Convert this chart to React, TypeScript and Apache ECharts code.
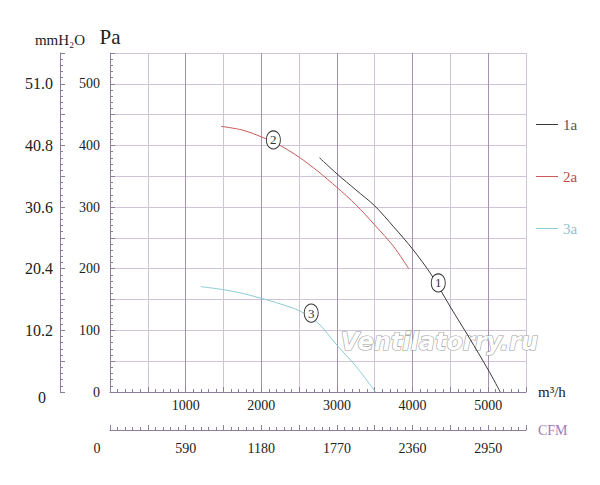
import React, { useEffect, useRef } from 'react';
import * as echarts from 'echarts';

// Series (fan curves): flow in m³/h, pressure in Pa
const seriesNames = ['1a', '2a', '3a'];
const seriesColors = ['#3a3a3a', '#c85a5a', '#8ccbd6'];
const legendTextColors = ['#555555', '#c04848', '#8fc3d0'];

const flow1 = [2770, 3000, 3250, 3500, 3750, 4000, 4250, 4500, 4750, 5000, 5160];
const pressure1 = [380, 354, 328, 302, 268, 232, 190, 138, 88, 36, 0];

const flow2 = [1470, 1750, 2000, 2250, 2500, 2750, 3000, 3250, 3500, 3750, 3950];
const pressure2 = [431, 425, 414, 400, 381, 358, 332, 304, 271, 236, 200];

const flow3 = [1200, 1500, 1750, 2000, 2250, 2500, 2750, 3000, 3250, 3510];
const pressure3 = [171, 166, 160, 152, 143, 132, 112, 76, 42, 0];

// Circled curve tags
const curveTags = ['1', '2', '3'];
const tagFlow = [4340, 2160, 2660];
const tagPressure = [177, 409, 128];

// Axes
const flowMax = 5500;
const flowStep = 500;
const flowLabelStep = 1000;
const pressureMax = 550;
const pressureStep = 50;
const pressureLabelStep = 100;
const PA_TO_MMH2O = 0.102;
const M3H_TO_CFM = 0.59;

const watermarkText = 'Ventilatorry.ru';

const FONT = '"Liberation Serif", "DejaVu Serif", serif';
const AXIS_COLOR = '#8e7e9e';
const GRID_DARK = '#a592b2';
const GRID_LIGHT = '#cfc4d6';
const TEXT_COLOR = '#222222';

export default function App() {
  const ref = useRef<HTMLDivElement>(null);

  useEffect(() => {
    document.body.style.margin = '0';
    if (!ref.current) return;
    const chart = echarts.init(ref.current, null, { renderer: 'svg' });

    const flows = [flow1, flow2, flow3];
    const pressures = [pressure1, pressure2, pressure3];

    const mmMax = +(pressureMax * PA_TO_MMH2O).toFixed(2);
    const mmStep = +(pressureStep * PA_TO_MMH2O).toFixed(2);
    const mmLabelStep = +(pressureLabelStep * PA_TO_MMH2O).toFixed(2);

    const tickCommon = {
      show: true,
      inside: true,
      length: 5,
      lineStyle: { color: AXIS_COLOR, width: 1 },
    };
    const minorCommon = {
      show: true,
      splitNumber: 5,
      length: 3,
      lineStyle: { color: AXIS_COLOR, width: 1 },
    };

    const option: any = {
      animation: false,
      backgroundColor: '#ffffff',
      textStyle: { fontFamily: FONT },
      grid: [
        { left: 110, right: 74, top: 53, bottom: 93, containLabel: false },
        { left: 110, right: 74, top: 429, height: 1, containLabel: false },
      ],
      legend: {
        orient: 'vertical',
        left: 531,
        top: 112,
        icon: 'rect',
        itemWidth: 22,
        itemHeight: 1,
        itemGap: 37,
        textStyle: { fontFamily: FONT, fontSize: 15 },
        data: seriesNames.map((n, i) => ({
          name: n,
          itemStyle: { color: seriesColors[i] },
          textStyle: { color: legendTextColors[i], fontFamily: FONT, fontSize: 15 },
        })),
      },
      xAxis: [
        {
          type: 'value',
          gridIndex: 0,
          min: 0,
          max: flowMax,
          interval: flowStep,
          name: 'm³/h',
          nameLocation: 'end',
          nameGap: 12,
          nameTextStyle: { fontFamily: FONT, fontSize: 15, color: TEXT_COLOR },
          axisLine: { show: true, onZero: false, lineStyle: { color: AXIS_COLOR } },
          axisTick: tickCommon,
          minorTick: minorCommon,
          splitLine: { show: true, lineStyle: { color: [GRID_DARK, GRID_LIGHT], width: 1 } },
          axisLabel: {
            margin: 6,
            fontFamily: FONT,
            fontSize: 14,
            color: TEXT_COLOR,
            formatter: (v: number) => (v > 0 && v % flowLabelStep === 0 ? String(v) : ''),
          },
        },
        {
          type: 'value',
          gridIndex: 1,
          min: 0,
          max: flowMax,
          interval: flowStep,
          position: 'bottom',
          name: 'CFM',
          nameLocation: 'end',
          nameGap: 12,
          nameTextStyle: {
            fontFamily: FONT,
            fontSize: 14,
            color: '#a07cb4',
            padding: [36, 0, 0, 0],
          },
          axisLine: { show: true, onZero: false, lineStyle: { color: AXIS_COLOR } },
          axisTick: tickCommon,
          minorTick: minorCommon,
          splitLine: { show: false },
          axisLabel: {
            margin: 11,
            fontFamily: FONT,
            fontSize: 14,
            color: TEXT_COLOR,
            formatter: (v: number) => {
              if (v % flowLabelStep !== 0) return '';
              if (v === 0) return '{z|0}';
              return String(Math.round(v * M3H_TO_CFM));
            },
            rich: {
              z: { fontFamily: FONT, fontSize: 14, color: TEXT_COLOR, padding: [0, 26, 0, 0] },
            },
          },
        },
      ],
      yAxis: [
        {
          type: 'value',
          gridIndex: 0,
          min: 0,
          max: pressureMax,
          interval: pressureStep,
          name: 'Pa',
          nameLocation: 'end',
          nameGap: 6,
          nameTextStyle: { fontFamily: FONT, fontSize: 21, color: TEXT_COLOR, align: 'center' },
          axisLine: { show: true, onZero: false, lineStyle: { color: AXIS_COLOR } },
          axisTick: tickCommon,
          minorTick: minorCommon,
          splitLine: { show: true, lineStyle: { color: GRID_LIGHT, width: 1 } },
          axisLabel: {
            margin: 10,
            fontFamily: FONT,
            fontSize: 14,
            color: TEXT_COLOR,
            formatter: (v: number) => (v % pressureLabelStep === 0 ? String(v) : ''),
          },
        },
        {
          type: 'value',
          gridIndex: 0,
          min: 0,
          max: mmMax,
          interval: mmStep,
          position: 'left',
          offset: 50,
          name: 'mmH₂O',
          nameLocation: 'end',
          nameGap: 6,
          nameTextStyle: { fontFamily: FONT, fontSize: 15, color: TEXT_COLOR, align: 'center' },
          axisLine: { show: true, onZero: false, lineStyle: { color: AXIS_COLOR } },
          axisTick: tickCommon,
          minorTick: minorCommon,
          splitLine: { show: false },
          axisLabel: {
            margin: 7,
            fontFamily: FONT,
            fontSize: 16,
            color: TEXT_COLOR,
            formatter: (v: number) => {
              const k = Math.round(v / mmLabelStep);
              if (Math.abs(v - k * mmLabelStep) > 1e-6) return '';
              if (k === 0) return '{z|0}';
              return v.toFixed(1);
            },
            rich: {
              z: { fontFamily: FONT, fontSize: 16, color: TEXT_COLOR, padding: [10, 7, 0, 0] },
            },
          },
        },
        { type: 'value', gridIndex: 1, show: false, min: 0, max: 1 },
      ],
      graphic: [
        {
          type: 'text',
          left: 340,
          top: 329,
          z: 1,
          style: {
            text: watermarkText,
            fill: '#ffffff',
            stroke: '#9c9c9c',
            lineWidth: 1.2,
            font: 'italic bold 24px "DejaVu Sans", sans-serif',
          },
        },
      ],
      series: seriesNames.map((name, i) => ({
        type: 'line',
        name,
        xAxisIndex: 0,
        yAxisIndex: 0,
        z: 3,
        data: flows[i].map((f, j) => [f, pressures[i][j]]),
        smooth: 0.3,
        symbol: 'none',
        lineStyle: { color: seriesColors[i], width: 1 },
        itemStyle: { color: seriesColors[i] },
        markPoint: {
          symbol: 'circle',
          symbolSize: [14, 18],
          silent: true,
          itemStyle: { color: '#ffffff', borderColor: '#333333', borderWidth: 1 },
          label: {
            show: true,
            position: 'inside',
            formatter: curveTags[i],
            color: '#333333',
            fontFamily: FONT,
            fontSize: 13,
          },
          data: [{ coord: [tagFlow[i], tagPressure[i]] }],
        },
      })),
    };

    chart.setOption(option);
    return () => chart.dispose();
  }, []);

  return <div ref={ref} style={{ width: 600, height: 485 }} />;
}
